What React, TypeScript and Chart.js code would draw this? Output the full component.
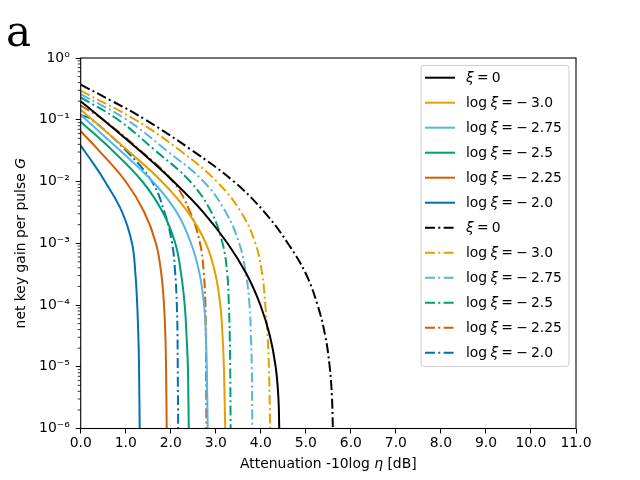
import { useEffect, useRef } from "react"
import { Chart, registerables, type Plugin } from "chart.js"

Chart.register(...registerables)

const seriesLabels = ["ξ = 0", "log ξ = − 3.0", "log ξ = − 2.75", "log ξ = − 2.5", "log ξ = − 2.25", "log ξ = − 2.0"]
const seriesColors = ["#000000", "#E69F00", "#56B4E9", "#009E73", "#D55E00", "#0072B2"]

// [attenuation dB, G]
const solidXi0 = [[0, 2.0e-1], [0.5, 1e-1], [1.3, 3.2e-2], [2.06, 1e-2], [2.72, 3.2e-3], [3.26, 1e-3], [3.68, 3.2e-4], [3.99, 1e-4], [4.2, 3.2e-5], [4.33, 1e-5], [4.39, 3.2e-6], [4.41, 1e-6]]
const solidLog30 = [[0, 1.45e-1], [0.26, 1e-1], [1.04, 3.2e-2], [1.8, 1e-2], [2.38, 3.2e-3], [2.78, 1e-3], [2.99, 3.2e-4], [3.1, 1e-4], [3.15, 3.2e-5], [3.18, 1e-5], [3.21, 1e-6]]
const solidLog275 = [[0, 1.2e-1], [0.12, 1e-1], [0.87, 3.2e-2], [1.6, 1e-2], [2.13, 3.2e-3], [2.45, 1e-3], [2.64, 3.2e-4], [2.74, 1e-4], [2.78, 3.2e-5], [2.8, 1e-5], [2.82, 1e-6]]
const solidLog25 = [[0, 9.3e-2], [0.7, 3.2e-2], [1.37, 1e-2], [1.82, 3.2e-3], [2.1, 1e-3], [2.23, 3.2e-4], [2.31, 1e-4], [2.35, 3.2e-5], [2.38, 1e-5], [2.4, 1e-6]]
const solidLog225 = [[0, 6.5e-2], [0.4, 3.2e-2], [1.0, 1e-2], [1.41, 3.2e-3], [1.67, 1e-3], [1.79, 3.2e-4], [1.85, 1e-4], [1.88, 3.2e-5], [1.895, 1e-5], [1.91, 1e-6]]
const solidLog20 = [[0, 3.8e-2], [0.27, 2.0e-2], [0.54, 1e-2], [0.92, 3.2e-3], [1.14, 1e-3], [1.215, 3.2e-4], [1.255, 1e-4], [1.28, 3.2e-5], [1.295, 1e-5], [1.31, 1e-6]]

// [attenuation dB, G]
const dashXi0 = [[0, 3.7e-1], [0.7, 2e-1], [1.44, 1e-1], [2.47, 3.2e-2], [3.4, 1e-2], [4.08, 3.2e-3], [4.6, 1e-3], [5.0, 3.2e-4], [5.26, 1e-4], [5.43, 3.2e-5], [5.53, 1e-5], [5.58, 3.2e-6], [5.6, 1e-6]]
const dashLog30 = [[0, 2.95e-1], [1.21, 1e-1], [2.2, 3.2e-2], [3.02, 1e-2], [3.56, 3.2e-3], [3.88, 1e-3], [4.03, 3.2e-4], [4.1, 1e-4], [4.15, 3.2e-5], [4.18, 1e-5], [4.21, 1e-6]]
const dashLog275 = [[0, 2.6e-1], [1.02, 1e-1], [1.9, 3.2e-2], [2.73, 1e-2], [3.22, 3.2e-3], [3.52, 1e-3], [3.67, 3.2e-4], [3.75, 1e-4], [3.78, 3.2e-5], [3.8, 1e-5], [3.81, 1e-6]]
const dashLog25 = [[0, 2.3e-1], [0.83, 1e-1], [1.65, 3.2e-2], [2.43, 1e-2], [2.9, 3.2e-3], [3.15, 1e-3], [3.255, 3.2e-4], [3.29, 1e-4], [3.31, 3.2e-5], [3.32, 1e-5], [3.33, 1e-6]]
const dashLog225 = [[0, 1.7e-1], [0.5, 1e-1], [1.32, 3.2e-2], [2.05, 1e-2], [2.43, 3.2e-3], [2.65, 1e-3], [2.735, 3.2e-4], [2.77, 1e-4], [2.78, 3.2e-5], [2.785, 1e-5], [2.79, 1e-6]]
const dashLog20 = [[0, 1.2e-1], [0.25, 1e-1], [1.0, 3.2e-2], [1.58, 1e-2], [1.86, 3.2e-3], [2.03, 1e-3], [2.1, 3.2e-4], [2.135, 1e-4], [2.15, 3.2e-5], [2.155, 1e-5], [2.165, 1e-6]]

const solidCurves = [solidXi0, solidLog30, solidLog275, solidLog25, solidLog225, solidLog20]
const dashCurves = [dashXi0, dashLog30, dashLog275, dashLog25, dashLog225, dashLog20]

const yTickExponents = [-6, -5, -4, -3, -2, -1, 0]
const xMin = 0
const xMax = 11

const FONT = "DejaVu Sans"
const DASHDOT = [10, 3.3, 2, 3.3]
const SUP: Record<string, string> = { "-": "⁻", "0": "⁰", "1": "¹", "2": "²", "3": "³", "4": "⁴", "5": "⁵", "6": "⁶", "7": "⁷", "8": "⁸", "9": "⁹" }

// text pieces: [text, italic]
type Piece = [string, boolean]

function splitMath(text: string, italics: string[]): Piece[] {
  const re = new RegExp("(" + italics.join("|") + "| )")
  return text.split(re).filter((p) => p !== "").map((p) => [p, italics.includes(p)] as Piece)
}

// spaceW: width used for a blank (math text sets tighter gaps)
function measurePieces(ctx: CanvasRenderingContext2D, pieces: Piece[], size: number, spaceW?: number) {
  let w = 0
  for (const [t, it] of pieces) {
    ctx.font = (it ? "italic " : "") + size + "px '" + FONT + "'"
    w += t === " " && spaceW !== undefined ? spaceW : ctx.measureText(t).width
  }
  return w
}

function drawPieces(ctx: CanvasRenderingContext2D, pieces: Piece[], x: number, y: number, size: number, spaceW?: number) {
  let cx = x
  for (const [t, it] of pieces) {
    ctx.font = (it ? "italic " : "") + size + "px '" + FONT + "'"
    if (t === " " && spaceW !== undefined) {
      cx += spaceW
      continue
    }
    ctx.fillText(t, cx, y)
    cx += ctx.measureText(t).width
  }
}

const decorPlugin: Plugin<"line"> = {
  id: "decor",
  afterDraw(chart) {
    const ctx = chart.ctx
    const { left, right, top, bottom } = chart.chartArea
    const yScale = chart.scales.y
    ctx.save()

    // minor log ticks
    ctx.strokeStyle = "#000"
    ctx.lineWidth = 0.8
    for (let e = -6; e < 0; e++) {
      for (let k = 2; k <= 9; k++) {
        const py = yScale.getPixelForValue(k * Math.pow(10, e))
        ctx.beginPath()
        ctx.moveTo(left - 3, py)
        ctx.lineTo(left, py)
        ctx.stroke()
      }
    }

    // frame
    ctx.lineWidth = 1.1
    ctx.strokeRect(left, top, right - left, bottom - top)

    // legend
    const boxL = right - 155
    const boxT = top + 7.4
    const rowH = 25
    const n = chart.data.datasets.length
    const boxH = n * rowH + 1
    ctx.fillStyle = "rgba(255,255,255,0.8)"
    ctx.strokeStyle = "#cccccc"
    ctx.lineWidth = 1
    ctx.beginPath()
    ctx.roundRect(boxL, boxT, 148, boxH, 3)
    ctx.fill()
    ctx.stroke()
    chart.data.datasets.forEach((ds: any, i: number) => {
      const cy = boxT + 12.3 + i * rowH
      ctx.strokeStyle = ds.borderColor
      ctx.lineWidth = 2
      ctx.setLineDash(ds.borderDash || [])
      ctx.beginPath()
      ctx.moveTo(boxL + 4, cy)
      ctx.lineTo(boxL + 34, cy)
      ctx.stroke()
      ctx.setLineDash([])
      ctx.fillStyle = "#000"
      ctx.textBaseline = "middle"
      ctx.textAlign = "left"
      drawPieces(ctx, splitMath(ds.label, ["ξ"]), boxL + 45, cy + 1, 13.9, 3.2)
    })

    // axis titles
    ctx.fillStyle = "#000"
    ctx.textBaseline = "alphabetic"
    ctx.textAlign = "left"
    const xt = splitMath("Attenuation -10log η [dB]", ["η"])
    const xw = measurePieces(ctx, xt, 13.9)
    drawPieces(ctx, xt, (left + right) / 2 - xw / 2, 468, 13.9)

    const yt = splitMath("net key gain per pulse G", ["G"])
    const yw = measurePieces(ctx, yt, 13.9)
    ctx.save()
    ctx.translate(25, (top + bottom) / 2)
    ctx.rotate(-Math.PI / 2)
    drawPieces(ctx, yt, -yw / 2, 0, 13.9)
    ctx.restore()

    // panel letter
    ctx.font = "42px 'DejaVu Serif'"
    ctx.fillText("a", 6, 46)
    ctx.restore()
  },
}

export default function App() {
  const chartRef = useRef<HTMLCanvasElement | null>(null)

  useEffect(() => {
    if (!chartRef.current) return
    const ctx = chartRef.current.getContext("2d")
    if (!ctx) return

    const toPoints = (pts: number[][]) => pts.map(([x, y]) => ({ x, y }))
    const datasets = [
      ...solidCurves.map((pts, i) => ({
        label: seriesLabels[i],
        data: toPoints(pts),
        borderColor: seriesColors[i],
        borderDash: [] as number[],
      })),
      ...dashCurves.map((pts, i) => ({
        label: seriesLabels[i],
        data: toPoints(pts),
        borderColor: seriesColors[i],
        borderDash: DASHDOT,
      })),
    ].map((d) => ({
      ...d,
      borderWidth: 2,
      pointRadius: 0,
      fill: false,
      tension: 0.4,
    }))

    const chart = new Chart(ctx, {
      type: "line",
      data: { datasets },
      options: {
        animation: false,
        responsive: false,
        layout: { padding: { left: 0, top: 58, right: 64, bottom: 0 } },
        plugins: { legend: { display: false }, tooltip: { enabled: false } },
        scales: {
          x: {
            type: "linear",
            min: xMin,
            max: xMax,
            afterFit: (scale: any) => {
              scale.height = 51.5
            },
            ticks: {
              stepSize: 1,
              padding: 2,
              color: "#000",
              font: { family: FONT, size: 13.9 },
              callback: (v: any) => Number(v).toFixed(1),
            },
            grid: { display: true, drawOnChartArea: false, drawTicks: true, tickLength: 5, tickColor: "#000", tickWidth: 1 },
            border: { display: false },
          },
          y: {
            type: "logarithmic",
            min: 1e-6,
            max: 1,
            afterFit: (scale: any) => {
              scale.width = 80.7
            },
            afterBuildTicks: (scale: any) => {
              scale.ticks = yTickExponents.map((e) => ({ value: Math.pow(10, e), major: true }))
            },
            ticks: {
              autoSkip: false,
              padding: 6,
              color: "#000",
              font: { family: FONT, size: 13.9 },
              callback: (v: any) => {
                const e = String(Math.round(Math.log10(Number(v))))
                return "10" + e.split("").map((c) => SUP[c]).join("")
              },
            },
            grid: { display: true, drawOnChartArea: false, drawTicks: true, tickLength: 5, tickColor: "#000", tickWidth: 1 },
            border: { display: false },
          },
        },
      },
      plugins: [decorPlugin],
    })

    return () => chart.destroy()
  }, [])

  return (
    <div style={{ position: "absolute", left: 0, top: 0, width: 640, height: 480, background: "#fff" }}>
      <canvas ref={chartRef} width={640} height={480} />
    </div>
  )
}
